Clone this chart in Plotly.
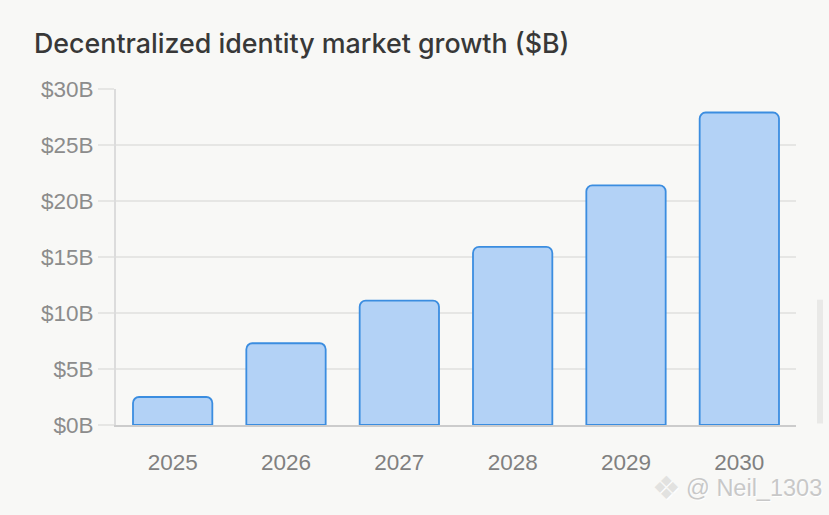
import plotly.graph_objects as go

years = ["2025", "2026", "2027", "2028", "2029", "2030"]
values = [2.5, 7.3, 11.1, 15.9, 21.4, 27.9]
y_ticks = [0, 5, 10, 15, 20, 25, 30]
y_labels = ["$0B", "$5B", "$10B", "$15B", "$20B", "$25B", "$30B"]
title_text = "Decentralized identity market growth ($B)"
watermark = "@ Neil_1303"

W, H = 829, 515
L, R, T, B = 115.5, 796, 89, 425.5

fig = go.Figure(go.Bar(
    x=years, y=values, width=0.7,
    marker=dict(color="#b3d2f6", line=dict(color="#3b8de0", width=1.8), cornerradius=6),
    hoverinfo="skip",
))
fig.update_layout(
    width=W, height=H,
    autosize=False,
    paper_bgcolor="#f8f8f6", plot_bgcolor="#f8f8f6",
    margin=dict(l=L, r=W - R, t=T, b=H - B, pad=0),
    showlegend=False,
    title=dict(text=title_text, x=34 / W, xanchor="left", y=1 - 44 / H, yanchor="middle",
               font=dict(family="Inter", size=26.8, color="#383838", weight=500)),
    font=dict(family="Liberation Sans"),
)
fig.update_xaxes(
    type="category", showgrid=False, zeroline=False, ticks="",
    showline=True, linecolor="#cccccc", linewidth=2,
    tickfont=dict(size=22.5, color="#808080"), ticklabelstandoff=16,
)
fig.update_yaxes(
    range=[0, 30], tickvals=y_ticks, ticktext=y_labels,
    showgrid=True, gridcolor="#e6e6e4", gridwidth=1.6, zeroline=False,
    showline=True, linecolor="#dcdcdc", linewidth=2,
    ticks="outside", ticklen=16, tickcolor="#e6e6e4", tickwidth=1.6,
    tickfont=dict(size=22.5, color="#8c8c8c"),
)
# scrollbar thumb at the right edge of the screenshot
fig.add_shape(type="rect", xref="paper", yref="paper", layer="below",
              x0=(817 - L) / (R - L), x1=(823 - L) / (R - L),
              y0=(B - 424) / (B - T), y1=(B - 300) / (B - T),
              fillcolor="#e9e9e7", line_width=0)
# watermark
fig.add_annotation(xref="paper", yref="paper", xanchor="right", yanchor="middle",
                   x=(824 - L) / (R - L), y=(B - 489) / (B - T),
                   text=watermark, showarrow=False,
                   font=dict(family="Liberation Sans", size=23.5, color="#c8c8c8",
                             shadow="1px 1px 1px #ffffff"))
fig.add_annotation(xref="paper", yref="paper", xanchor="center", yanchor="middle",
                   x=(666 - L) / (R - L), y=(B - 489) / (B - T),
                   text="\u2756", showarrow=False,
                   font=dict(family="DejaVu Sans", size=32, color="#e2e2e0",
                             shadow="1px 1px 1px #ffffff"))
fig.write_html("out.html", config=dict(displayModeBar=False),
               post_script="document.body.style.margin='0';document.body.style.overflow='hidden';document.body.style.background='#f8f8f6';")
